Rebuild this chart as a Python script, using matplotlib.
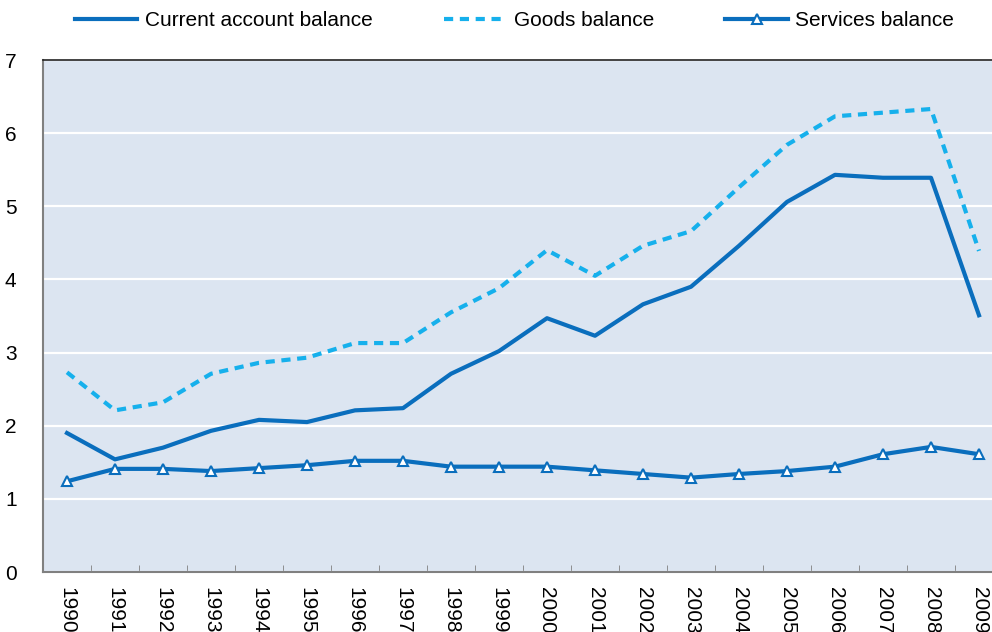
import numpy as np
import matplotlib.pyplot as plt

plt.rcParams['font.family'] = ['Liberation Sans', 'DejaVu Sans']

years = [str(y) for y in range(1990, 2010)]

current_account = [1.90, 1.54, 1.70, 1.93, 2.08, 2.05, 2.21, 2.24, 2.71, 3.02,
                   3.47, 3.23, 3.66, 3.90, 4.46, 5.06, 5.43, 5.39, 5.39, 3.51]
goods = [2.73, 2.21, 2.32, 2.71, 2.86, 2.93, 3.13, 3.13, 3.55, 3.88,
         4.40, 4.05, 4.46, 4.66, 5.26, 5.84, 6.23, 6.28, 6.33, 4.39]
services = [1.24, 1.41, 1.41, 1.38, 1.42, 1.46, 1.52, 1.52, 1.44, 1.44,
            1.44, 1.39, 1.34, 1.29, 1.34, 1.38, 1.44, 1.61, 1.71, 1.61]

dark_blue = '#0A6EBD'
light_blue = '#16B0EC'
fs = 15

fig = plt.figure(figsize=(9.92, 6.32), dpi=100)
ax = fig.add_axes([43 / 992, 60 / 632, 960 / 992, 512 / 632])
ax.set_facecolor('#DCE5F1')

x = np.arange(len(years))
ax.plot(x, current_account, '-', color=dark_blue, lw=3, label='Current account balance')
ax.plot(x, goods, '--', color=light_blue, lw=3, dashes=(2.2, 1.6), label='Goods balance')
ax.plot(x, services, '-', color=dark_blue, lw=3, marker='^', markersize=7,
        markerfacecolor='white', markeredgecolor=dark_blue, markeredgewidth=1.5,
        label='Services balance')

ax.set_xlim(-0.5, len(years) - 0.5)
ax.set_ylim(0, 7)
ax.set_yticks(range(0, 8))
ax.yaxis.grid(True, color='white', lw=1.6)
ax.set_axisbelow(True)
ax.tick_params(axis='y', length=0, pad=19, labelsize=fs)

# year labels sit between the small boundary ticks
ax.set_xticks(x)
ax.set_xticklabels(years, rotation=270, fontsize=fs, va='top', ha='center')
ax.tick_params(axis='x', which='major', length=0, pad=11)
ax.set_xticks(np.arange(0.5, len(years) - 0.5), minor=True)
ax.tick_params(axis='x', which='minor', length=5, color='#808080', direction='in')

for side in ['left', 'bottom']:
    ax.spines[side].set_color('#808080')
    ax.spines[side].set_linewidth(1.5)
ax.spines['top'].set_color('#222222')
ax.spines['top'].set_linewidth(1.2)
ax.spines['right'].set_visible(False)

fig.legend(loc='upper left', bbox_to_anchor=(56 / 992, 1.012), ncol=3, frameon=False,
           fontsize=fs, handlelength=3.0, handletextpad=0.35, columnspacing=3.43)

fig.savefig('out.png', dpi=100)
